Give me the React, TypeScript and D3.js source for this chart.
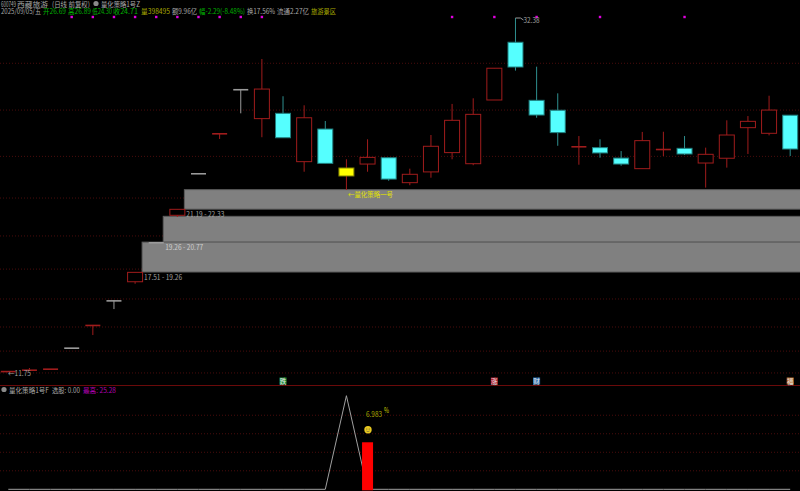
import React from "react";
import * as d3 from "d3";

const W = 800, H = 491;
const FONT = "'Noto Sans CJK SC','Noto Sans',sans-serif";

// open, high, low, close per bar
const opens = [11.71,11.79,11.85,13.08,14.41,15.85,16.94,19.25,20.83,23.29,25.63,28.21,26.49,26.80,23.97,25.88,23.60,23.83,24.20,22.74,23.37,24.50,23.85,27.58,30.96,27.56,26.98,24.77,24.79,24.18,23.56,24.71,24.75,23.89,24.17,25.96,25.63,26.69];
const highs = [11.71,11.89,11.85,13.08,14.41,15.85,17.49,19.25,21.18,23.29,25.63,28.21,29.98,27.80,27.27,26.35,24.11,25.28,24.20,23.56,25.53,27.35,27.68,29.44,32.38,29.53,27.97,25.47,25.28,24.59,25.71,25.72,25.47,24.79,26.39,26.64,27.83,26.69];
const lows = [11.71,11.79,11.85,13.08,13.82,15.34,16.82,19.25,20.73,23.29,25.30,26.80,25.40,25.37,23.38,23.87,22.31,23.38,22.85,22.59,23.03,24.11,23.76,27.58,29.30,26.54,24.90,23.79,24.20,23.73,23.56,24.30,24.36,22.45,23.62,24.42,25.51,24.30];
const closes = [11.71,11.79,11.85,13.08,14.41,15.85,17.49,19.25,21.18,23.29,25.63,28.21,28.22,25.37,26.54,23.87,23.13,24.22,22.95,23.23,24.87,26.39,26.74,29.44,29.51,26.70,25.67,24.87,24.48,23.83,25.20,24.71,24.42,24.40,25.53,26.33,26.99,24.71];
// 0 = hollow red, 1 = solid cyan, 2 = grey doji, 3 = solid yellow
const kinds = [0,0,0,2,0,2,0,2,0,2,0,2,0,1,0,1,3,0,1,0,0,0,0,0,1,1,1,0,1,1,0,0,1,0,0,0,0,1];

const priceGrid = [29.73,26.99,24.28,21.84,19.62,17.68,15.93,14.29,12.88,11.60];
const zoneLow = [21.19,19.26,17.51];
const zoneHigh = [22.33,20.77,19.26];
const zoneStart = [8,7,6];
const zoneText = ["21.19 - 22.33","19.26 - 20.77","17.51 - 19.26"];
const zoneTextColor = ["#a0a0a0","#cfcfcf","#a0a0a0"];
const markerBars = [3,4,5,6,7,8,9,10,11,12,21,23,25,28,32];

const lineValues = [0,0,0,0,0,0,0,0,0,0,0,0,0,0,0,0,25.28,0,0,0,0,0,0,0,0,0,0,0,0,0,0,0,0,0,0,0,0,0];
const barIndex = 17;
const barValue = 12.7;
const lowerGrid = [5,10,15,20];

const badges = [
  { bar: 13, t: "跌", c: "#1f8f3a" },
  { bar: 23, t: "涨", c: "#b0202c" },
  { bar: 25, t: "财", c: "#2a6fb0" },
  { bar: 37, t: "福", c: "#b5682c" },
];

const titleLine = [
  { x: 1, w: 15, t: "600749", c: "#a8a8a8" },
  { x: 17, w: 31, t: "西藏旅游", c: "#a8a8a8" },
  { x: 52, w: 38, t: "(日线 前复权)", c: "#a8a8a8" },
  { x: 101, w: 39, t: "量化策略1号Z", c: "#a8a8a8" },
];

const quoteLine = [
  { x: 1, w: 40, t: "2025/09/05/五", c: "#a8a8a8" },
  { x: 43, w: 23, t: "开26.69", c: "#00b000" },
  { x: 68, w: 23, t: "高26.89", c: "#00b000" },
  { x: 92, w: 20, t: "低24.30", c: "#00b000" },
  { x: 113, w: 25, t: "收24.71", c: "#00b000" },
  { x: 141, w: 29, t: "量398495", c: "#a8a800" },
  { x: 172, w: 25, t: "额9.96亿", c: "#a8a8a8" },
  { x: 199, w: 46, t: "幅-2.29(-8.48%)", c: "#00b000" },
  { x: 247, w: 28, t: "换17.56%", c: "#a8a8a8" },
  { x: 277, w: 32, t: "流通2.27亿", c: "#a8a8a8" },
  { x: 311, w: 25, t: "旅游景区", c: "#a8a800" },
];

const x = d3.scaleLinear().domain([0, 37]).range([8.3, 790.2]);
const y = d3.scaleLinear().domain([32.38, 11.75]).range([18, 370.4]);
const yLow = d3.scaleLinear().domain([0, 25.28]).range([489.3, 395.7]);
const halfW = 7.5;

const RED = "#a01c1c", TEAL = "#2f8f8f", CYAN = "#55ffff", GREY = "#9a9a9a";

function T(p: { x: number; y: number; w: number; c: string; t: string; s?: number }) {
  return (
    <text x={p.x} y={p.y} fontSize={p.s ?? 7.2} fill={p.c} textLength={p.w} lengthAdjust="spacingAndGlyphs">
      {p.t}
    </text>
  );
}

export default function App() {
  const line = d3.line<number>().x((_, i) => x(i)).y((d) => yLow(d));
  return (
    <svg width={W} height={H} style={{ position: "absolute", left: 0, top: 0, background: "#000", fontFamily: FONT }}>
      <rect width={W} height={H} fill="#000" />
      {priceGrid.map((g) => (
        <line key={g} x1={0} x2={W} y1={y(g)} y2={y(g)} stroke="#4a0c0c" strokeDasharray="1 2" />
      ))}
      {lowerGrid.map((g) => (
        <line key={g} x1={0} x2={W} y1={yLow(g)} y2={yLow(g)} stroke="#4a0c0c" strokeDasharray="1 2" />
      ))}
      <line x1={0} x2={W} y1={385.5} y2={385.5} stroke="#6a0a0a" />

      {zoneLow.map((lo, i) => {
        const left = x(zoneStart[i]) + halfW - 0.5;
        return (
          <rect key={lo} x={left} y={y(zoneHigh[i])} width={W - left + 2} height={y(lo) - y(zoneHigh[i])} fill="#808080" stroke="#5c5c5c" />
        );
      })}

      {opens.map((o, i) => {
        const c = closes[i], k = kinds[i], cx = x(i);
        const top = y(Math.max(o, c)), bot = y(Math.min(o, c));
        const wick = k === 1 ? TEAL : k === 2 ? GREY : RED;
        const flat = bot - top < 2.5;
        return (
          <g key={i}>
            <line x1={cx} x2={cx} y1={y(highs[i])} y2={y(lows[i])} stroke={wick} />
            {flat && k !== 1 ? (
              <line x1={cx - halfW} x2={cx + halfW} y1={top + 0.5} y2={top + 0.5} stroke={wick} strokeWidth={1.6} />
            ) : (
              <rect
                x={cx - halfW}
                y={top}
                width={halfW * 2}
                height={Math.max(bot - top, 1)}
                fill={k === 1 ? CYAN : k === 3 ? "#ffff00" : "#000"}
                stroke={k === 1 ? "#1f7f7f" : k === 3 ? "#7f7f00" : RED}
              />
            )}
          </g>
        );
      })}

      {zoneLow.map((lo, i) => (
        <T key={lo} x={x(zoneStart[i]) + halfW + 1.5} y={y(lo) + 8.2} w={38} c={zoneTextColor[i]} t={zoneText[i]} />
      ))}

      {markerBars.map((b) => (
        <rect key={b} x={x(b) - 1.2} y={15.8} width={2.4} height={2.4} fill="#e000e0" />
      ))}

      {titleLine.map((q) => <T key={q.x} x={q.x} y={6.5} w={q.w} c={q.c} t={q.t} />)}
      <circle cx={96} cy={3.5} r={2.6} fill="#8a8a8a" />
      {quoteLine.map((q) => <T key={q.x} x={q.x} y={13.5} w={q.w} c={q.c} t={q.t} />)}

      <path d={`M${x(24)} 18 h5 l3 2`} stroke="#999" fill="none" />
      <T x={523.5} y={23} w={16} c="#a0a0a0" t="32.38" />
      <T x={8} y={375.5} w={23} c="#a0a0a0" t="←11.75" />
      <T x={348} y={197} w={45} c="#e0e000" t="←量化策略一号" />

      {badges.map((b) => (
        <g key={b.t}>
          <rect x={x(b.bar) - 3.5} y={377.5} width={7} height={7} fill={b.c} />
          <text x={x(b.bar)} y={383.5} fontSize={6.5} textAnchor="middle" fill="#e8e8e8">{b.t}</text>
        </g>
      ))}

      <circle cx={4} cy={389.5} r={2.6} fill="#8a8a8a" />
      <T x={9} y={392.5} w={40} c="#a8a8a8" t="量化策略1号F" />
      <T x={52} y={392.5} w={28} c="#a8a8a8" t="选股: 0.00" />
      <T x={83} y={392.5} w={33} c="#b000b0" t="最高: 25.28" />

      <path d={line(lineValues) ?? ""} fill="none" stroke="#a0a0a0" />
      <rect x={x(barIndex) - 5.5} y={yLow(barValue)} width={11} height={yLow(0) - yLow(barValue) + 1} fill="#ff0000" />

      <T x={366} y={416.5} w={16} c="#a8a800" t="6.983" />
      <T x={384} y={413} w={5} c="#c8c800" t="%" />
      <circle cx={368} cy={429.7} r={3.7} fill="#e8c820" />
      <circle cx={366.8} cy={429} r={0.5} fill="#444" />
      <circle cx={369.2} cy={429} r={0.5} fill="#444" />
      <path d="M366.4 431 q1.6 1.4 3.2 0" stroke="#444" strokeWidth={0.5} fill="none" />
    </svg>
  );
}
